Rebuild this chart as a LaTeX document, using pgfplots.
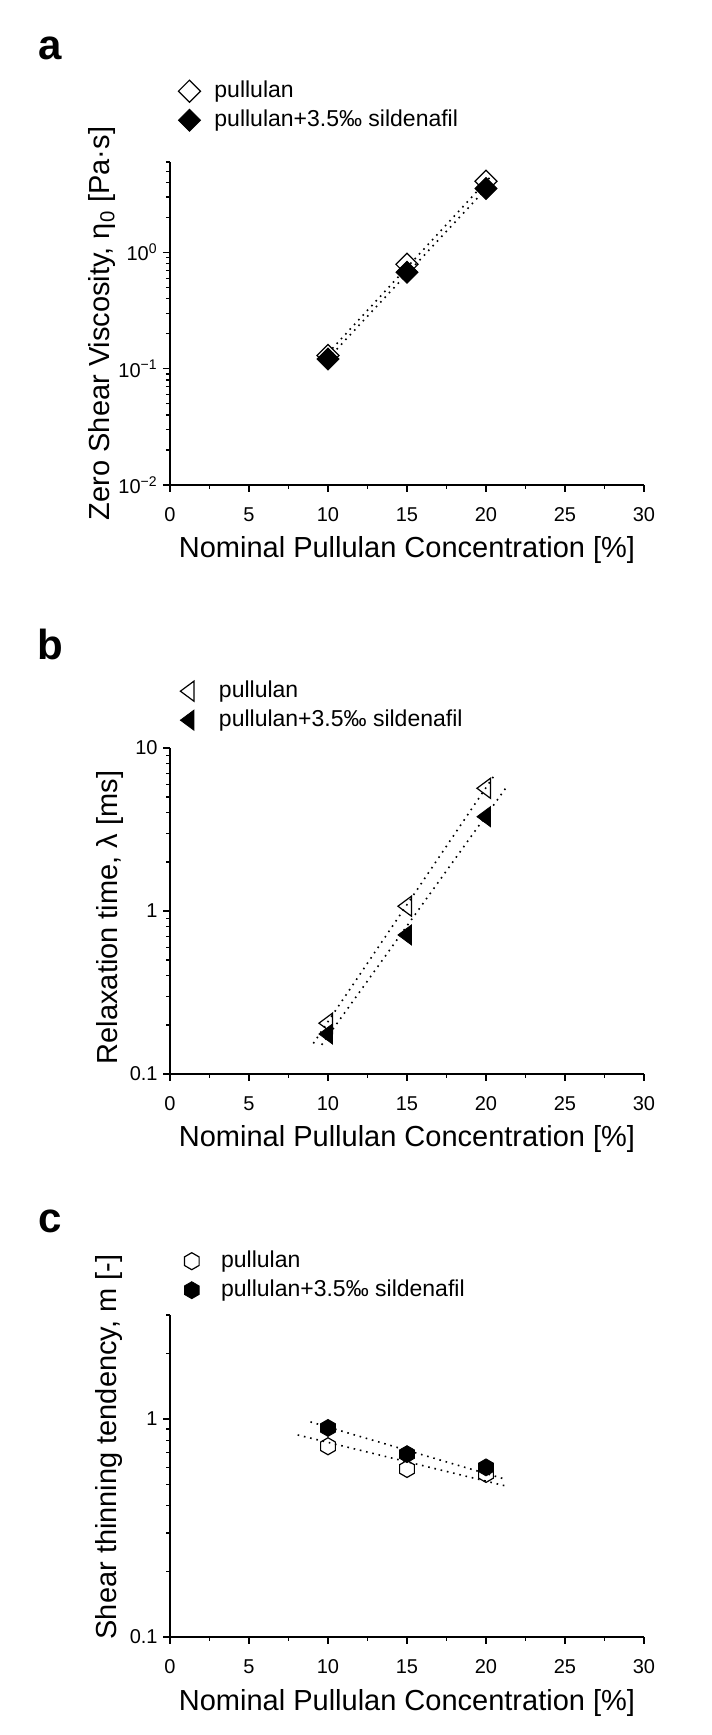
\documentclass[border=0pt]{standalone}
\usepackage{fontspec}
\setmainfont{Liberation Sans}
\usepackage{pgfplots}
\usepackage{pgfplotstable}
\pgfplotsset{compat=1.18}
\usetikzlibrary{plotmarks}

\pgfdeclareplotmark{hexagon}{%
  \pgfpathmoveto{\pgfpointpolar{90}{\pgfplotmarksize}}%
  \pgfpathlineto{\pgfpointpolar{150}{\pgfplotmarksize}}%
  \pgfpathlineto{\pgfpointpolar{210}{\pgfplotmarksize}}%
  \pgfpathlineto{\pgfpointpolar{270}{\pgfplotmarksize}}%
  \pgfpathlineto{\pgfpointpolar{330}{\pgfplotmarksize}}%
  \pgfpathlineto{\pgfpointpolar{30}{\pgfplotmarksize}}%
  \pgfpathclose
  \pgfusepathqstroke}
\pgfdeclareplotmark{hexagon*}{%
  \pgfpathmoveto{\pgfpointpolar{90}{\pgfplotmarksize}}%
  \pgfpathlineto{\pgfpointpolar{150}{\pgfplotmarksize}}%
  \pgfpathlineto{\pgfpointpolar{210}{\pgfplotmarksize}}%
  \pgfpathlineto{\pgfpointpolar{270}{\pgfplotmarksize}}%
  \pgfpathlineto{\pgfpointpolar{330}{\pgfplotmarksize}}%
  \pgfpathlineto{\pgfpointpolar{30}{\pgfplotmarksize}}%
  \pgfpathclose
  \pgfusepathqfillstroke}

\pgfplotstableread{
x y
10 0.130
15 0.79
20 4.1
}\tabAopen
\pgfplotstableread{
x y
10 0.121
15 0.676
20 3.55
}\tabAfill
\pgfplotstableread{
x y
10 0.205
15 1.07
20 5.66
}\tabBopen
\pgfplotstableread{
x y
10 0.176
15 0.713
20 3.79
}\tabBfill
\pgfplotstableread{
x y
10 0.75
15 0.59
20 0.56
}\tabCopen
\pgfplotstableread{
x y
10 0.91
15 0.69
20 0.60
}\tabCfill

\pgfplotsset{
  every axis/.append style={
    scale only axis, width=237pt,
    xmin=0, xmax=30, xtick={0,5,...,30}, minor x tick num=1,
    clip=false,
    axis lines*=left,
    axis line style={line width=0.75pt, black},
    tick align=outside, major tick length=3.5pt, minor tick length=2pt,
    tick style={black, line width=0.6pt},
    tick label style={font=\fontsize{10}{12}\selectfont},
    xticklabel style={anchor=base, yshift=-15pt},
    yticklabel style={anchor=east, inner sep=0pt, xshift=-2.5pt},
    label style={font=\fontsize{14.5}{17}\selectfont},
    xlabel={Nominal Pullulan Concentration [\%]},
    x label style={at={(axis description cs:0.5,0)}, anchor=base, yshift=-36.5pt},
    legend cell align=left,
    legend style={draw=none, fill=none, font=\fontsize{11.5}{14}\selectfont,
      inner sep=0pt, nodes={inner sep=0pt, text height=8.5pt, text depth=2.5pt},
      row sep=3.5pt, at={(axis description cs:0,1)}, anchor=north west},
  },
  fitline/.style={black, line width=0.8pt, dash pattern=on 0.8pt off 2.4pt, forget plot},
}

\begin{document}
\begin{tikzpicture}
\useasboundingbox (0,0) rectangle (356pt,867.5pt);

\node[font=\bfseries\fontsize{21}{25}\selectfont] at (25pt,843.5pt) {a};
\node[font=\bfseries\fontsize{21}{25}\selectfont] at (25pt,545pt) {b};
\node[font=\bfseries\fontsize{21}{25}\selectfont] at (25pt,257pt) {c};

% panel a
\begin{axis}[at={(85pt,625pt)}, anchor=south west, height=161.5pt,
  ymode=log, /pgf/number format/assume math mode=true,
  ymin=0.01, ymax=6,
  ytick={0.01,0.1,1},
  yticklabels={10\textsuperscript{−2},10\textsuperscript{−1},10\textsuperscript{0}},
  minor ytick={0.02,0.03,0.04,0.05,0.06,0.07,0.08,0.09,0.2,0.3,0.4,0.5,0.6,0.7,0.8,0.9,2,3,4,5,6},
  ylabel={Zero Shear Viscosity, η\textsubscript{0} [Pa·s]},
  y label style={at={(axis description cs:-0.1266,0.5)}, anchor=base},
  legend style={xshift=4pt, yshift=41.1pt, column sep=7pt},
]
\addplot[fitline] coordinates {(10,0.136) (20.3,4.5)};
\addplot[fitline] coordinates {(10,0.122) (20.3,3.9)};
\addplot[only marks, mark=square, mark size=3.9pt, mark options={rotate=45, black, line width=0.6pt}] table {\tabAopen};
\addlegendentry{pullulan}
\addplot[only marks, mark=square*, mark size=3.9pt, mark options={rotate=45, black, fill=black}] table {\tabAfill};
\addlegendentry{pullulan+3.5‰ sildenafil}
\end{axis}

% panel b
\begin{axis}[at={(85pt,330.5pt)}, anchor=south west, height=163pt,
  ymode=log, /pgf/number format/assume math mode=true,
  ymin=0.1, ymax=10,
  ytick={0.1,1,10},
  yticklabels={0.1,1,10},
  minor ytick={0.2,0.3,0.4,0.5,0.6,0.7,0.8,0.9,2,3,4,5,6,7,8,9},
  ylabel={Relaxation time, λ [ms]},
  y label style={at={(axis description cs:-0.1118,0.48)}, anchor=base},
  legend style={xshift=5pt, yshift=34.1pt, column sep=12.5pt},
]
\addplot[fitline] coordinates {(9.07,0.154) (20.57,6.9)};
\addplot[fitline] coordinates {(9.6,0.151) (21.3,5.76)};
\addplot[only marks, mark=triangle, mark size=5.8pt, mark options={rotate=90, yscale=0.78, black, line width=0.6pt}] table {\tabBopen};
\addlegendentry{pullulan}
\addplot[only marks, mark=triangle*, mark size=5.8pt, mark options={rotate=90, yscale=0.78, black, fill=black}] table {\tabBfill};
\addlegendentry{pullulan+3.5‰ sildenafil}
\end{axis}

% panel c
\begin{axis}[at={(85pt,49pt)}, anchor=south west, height=161pt,
  ymode=log, /pgf/number format/assume math mode=true,
  ymin=0.1, ymax=3,
  ytick={0.1,1},
  yticklabels={0.1,1},
  minor ytick={0.2,0.3,0.4,0.5,0.6,0.7,0.8,0.9,2,3},
  ylabel={Shear thinning tendency, m [-]},
  y label style={at={(axis description cs:-0.1139,0.59)}, anchor=base},
  legend style={xshift=7pt, yshift=32.6pt, column sep=11pt},
]
\addplot[fitline] coordinates {(8.89,0.97) (21.2,0.53)};
\addplot[fitline] coordinates {(8.08,0.845) (21.2,0.494)};
\addplot[only marks, mark=hexagon, mark size=4.25pt, mark options={black, line width=0.6pt}] table {\tabCopen};
\addlegendentry{pullulan}
\addplot[only marks, mark=hexagon*, mark size=4.25pt, mark options={black, fill=black}] table {\tabCfill};
\addlegendentry{pullulan+3.5‰ sildenafil}
\end{axis}
\end{tikzpicture}
\end{document}
